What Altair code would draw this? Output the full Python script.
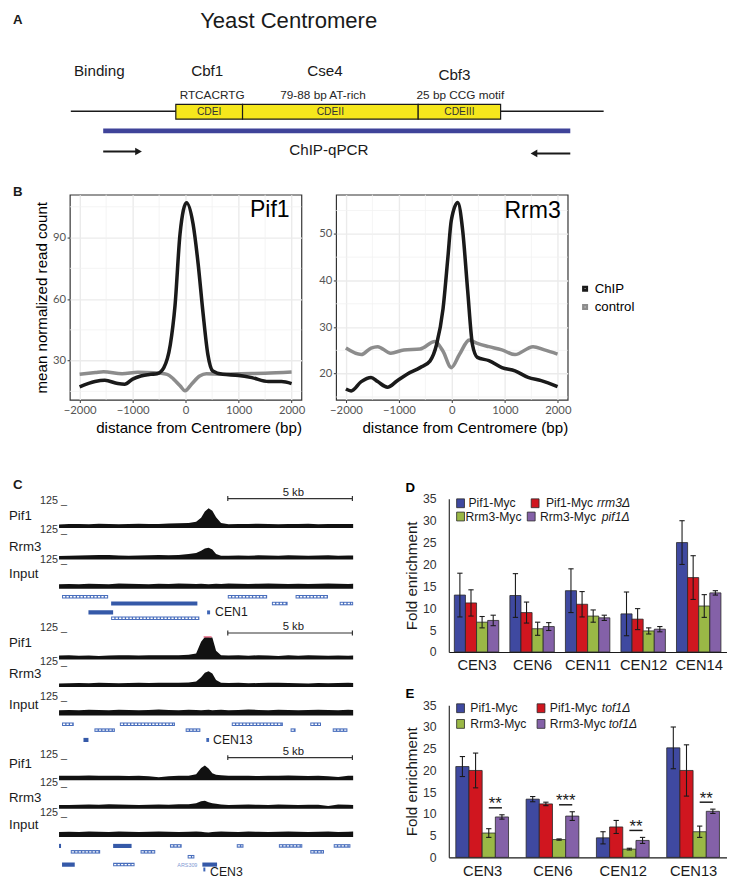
import altair as alt
import pandas as pd

S = 0.984


def s(v):
    return round(v * S, 3)


FONT = "Liberation Sans"
TFONT = "Lato"
INK = "#1a1a1a"

# ======================= DATA =======================
# ---- Panel A (schematic labels)
a_title = "Yeast Centromere"
a_binding = ["Binding", "Cbf1", "Cse4", "Cbf3"]
a_motifs = ["RTCACRTG", "79-88 bp AT-rich", "25 bp CCG motif"]
a_elements = ["CDEI", "CDEII", "CDEIII"]
a_assay = "ChIP-qPCR"

# ---- Panel B (mean normalized read count vs distance, bp)
pif1_chip_x = [-2000, -1710, -1525, -1280, -1150, -1000, -845, -660, -540, -413, -290, -200, -105, 18, 140, 235, 327, 420, 512, 700, 1000, 1250, 1560, 1810, 2000]
pif1_chip_y = [17.2, 19.8, 20.4, 18.8, 18.5, 21.0, 22.5, 23.3, 23.6, 26.5, 37.6, 56.8, 91.9, 107.0, 96.7, 77.5, 53.6, 32.9, 24.9, 23.3, 22.8, 21.7, 19.8, 19.8, 18.8]
pif1_ctrl_x = [-2000, -1700, -1550, -1200, -900, -600, -350, -228, -105, -12, 111, 265, 390, 700, 1000, 1500, 2000]
pif1_ctrl_y = [23.3, 24.2, 24.6, 23.6, 24.3, 24.1, 23.3, 21.0, 17.7, 15.3, 18.5, 22.5, 23.6, 23.3, 23.6, 23.8, 24.4]
rrm3_chip_x = [-2000, -1900, -1710, -1525, -1400, -1216, -1031, -846, -599, -414, -290, -167, -74, -12, 111, 204, 296, 389, 481, 698, 944, 1191, 1438, 1685, 1994]
rrm3_chip_y = [16.7, 16.3, 18.3, 19.2, 18.3, 17.1, 18.5, 19.9, 21.3, 22.7, 26.2, 33.9, 45.1, 52.8, 56.7, 50.7, 38.1, 26.2, 23.5, 22.8, 21.3, 20.6, 19.2, 18.5, 17.2]
rrm3_ctrl_x = [-2000, -1710, -1525, -1401, -1154, -907, -599, -321, -167, -12, 142, 327, 481, 698, 944, 1191, 1531, 1747, 1994]
rrm3_ctrl_y = [25.5, 24.1, 25.5, 25.8, 24.4, 25.1, 25.3, 26.9, 24.8, 21.3, 24.1, 27.2, 26.5, 25.8, 25.1, 24.1, 25.8, 25.1, 24.2]
b_series = ["ChIP", "control"]

# ---- Panel C (browser tracks; position in kb, signal 0-125)
c_pos = [0.0, 0.4, 0.8, 1.2, 1.6, 2.0, 2.4, 2.8, 3.2, 3.6, 4.0, 4.4, 4.8, 5.2, 5.5, 5.7, 5.85, 6.0, 6.15, 6.3, 6.5, 6.8, 7.2, 7.6, 8.0, 8.4, 8.8, 9.2, 9.6, 10.0, 10.4, 10.8, 11.2, 11.6, 11.8]
cen1_pif1 = [18, 20, 21, 19, 22, 21, 19, 21, 22, 20, 21, 23, 24, 26, 32, 52, 84, 100, 88, 55, 26, 19, 21, 20, 22, 21, 19, 21, 20, 22, 19, 21, 20, 21, 21]
cen1_rrm3 = [17, 18, 20, 21, 23, 22, 20, 19, 20, 21, 22, 21, 23, 27, 33, 44, 56, 60, 50, 28, 19, 18, 20, 19, 21, 20, 19, 21, 20, 18, 20, 21, 19, 20, 20]
cen1_input = [24, 25, 24, 26, 25, 24, 27, 26, 25, 24, 26, 25, 27, 26, 25, 26, 25, 24, 25, 26, 25, 27, 26, 25, 26, 27, 26, 25, 26, 25, 26, 27, 26, 25, 26]
cen13_pif1 = [20, 21, 19, 20, 18, 20, 21, 22, 20, 21, 22, 21, 22, 24, 30, 90, 115, 115, 112, 45, 22, 20, 21, 19, 22, 20, 18, 21, 19, 21, 20, 19, 20, 19, 20]
cen13_rrm3 = [18, 19, 20, 19, 21, 20, 19, 20, 21, 20, 22, 21, 22, 23, 28, 50, 72, 80, 68, 35, 22, 20, 21, 19, 20, 21, 22, 20, 19, 18, 20, 19, 20, 21, 20]
cen13_input = [27, 28, 26, 29, 28, 27, 29, 28, 27, 28, 30, 28, 27, 29, 28, 27, 28, 29, 27, 28, 29, 27, 28, 30, 28, 27, 29, 28, 27, 28, 29, 28, 27, 29, 28]
cen3_pif1 = [22, 23, 22, 24, 22, 23, 22, 21, 22, 20, 15, 20, 22, 23, 30, 62, 75, 60, 35, 28, 25, 23, 22, 23, 21, 22, 23, 24, 22, 21, 22, 20, 16, 22, 23]
cen3_rrm3 = [18, 19, 20, 21, 20, 22, 21, 20, 19, 20, 21, 20, 22, 23, 28, 38, 40, 33, 27, 25, 21, 19, 20, 21, 20, 19, 21, 20, 19, 20, 20, 14, 21, 20, 19]
cen3_input = [26, 27, 26, 28, 27, 26, 28, 27, 26, 27, 28, 27, 26, 27, 28, 27, 25, 24, 26, 27, 28, 27, 26, 28, 27, 26, 27, 28, 27, 26, 27, 28, 26, 27, 28]
c_track_names = ["Pif1", "Rrm3", "Input"]
c_cen_names = ["CEN1", "CEN13", "CEN3"]
c_scale_label = "5 kb"
c_track_max = "125"
# gene annotations: group, row, start kb, end kb, kind
gene_group = [0] * 9 + [1] * 10 + [2] * 14
gene_row = ["a", "a", "a", "b", "b", "b", "c", "c", "d",
            "a", "a", "a", "a", "b", "b", "b", "b", "c", "c",
            "a", "a", "a", "a", "a", "a", "b", "b", "b", "c", "d", "d", "d", "e"]
gene_start = [0.12, 6.77, 9.49, 2.09, 8.54, 11.26, 1.18, 5.94, 2.09,
              0.12, 2.44, 6.93, 10.08, 1.42, 5.08, 9.29, 10.98, 0.98, 5.91,
              0.0, 2.17, 4.45, 7.13, 8.82, 11.02, 0.47, 3.27, 10.08, 5.16, 0.12, 2.17, 5.75, 5.79]
gene_end = [1.97, 8.35, 10.79, 5.55, 9.17, 11.8, 2.17, 6.06, 5.63,
            0.59, 4.65, 8.98, 10.51, 2.24, 5.67, 9.49, 11.57, 1.18, 6.02,
            0.08, 2.91, 4.92, 7.4, 9.76, 11.69, 1.65, 3.86, 10.63, 5.43, 0.63, 3.03, 6.34, 5.87]
gene_kind = ["hatch", "hatch", "hatch", "solid", "hatch", "hatch", "solid", "cen", "hatch",
             "hatch", "hatch", "hatch", "hatch", "hatch", "hatch", "hatch", "hatch", "solid", "cen",
             "solid", "solid", "hatch", "hatch", "hatch", "hatch", "hatch", "hatch", "hatch", "hatch", "solid", "hatch", "solid", "cen"]

# ---- Panel D
d_cats = ["CEN3", "CEN6", "CEN11", "CEN12", "CEN14"]
d_series = ["Pif1-Myc", "Pif1-Myc rrm3Δ", "Rrm3-Myc", "Rrm3-Myc pif1Δ"]
d_pif1 = [13.0, 12.9, 14.0, 8.7, 25.0]
d_pif1_err = [5.0, 5.0, 5.0, 5.0, 5.0]
d_pif1_rrm3 = [11.2, 9.0, 10.9, 7.5, 17.0]
d_pif1_rrm3_err = [3.0, 2.4, 2.9, 2.4, 5.0]
d_rrm3 = [6.8, 5.3, 8.2, 4.8, 10.5]
d_rrm3_err = [1.3, 1.5, 1.4, 0.7, 2.6]
d_rrm3_pif1 = [7.2, 5.8, 7.8, 5.2, 13.5]
d_rrm3_pif1_err = [1.2, 0.9, 0.6, 0.6, 0.5]

# ---- Panel E
e_cats = ["CEN3", "CEN6", "CEN12", "CEN13"]
e_series = ["Pif1-Myc", "Pif1-Myc tof1Δ", "Rrm3-Myc", "Rrm3-Myc tof1Δ"]
e_pif1 = [20.9, 13.4, 4.5, 25.2]
e_pif1_err = [2.3, 0.6, 1.4, 4.8]
e_pif1_tof1 = [20.0, 12.3, 7.0, 20.0]
e_pif1_tof1_err = [4.0, 0.4, 1.5, 5.9]
e_rrm3 = [5.6, 4.1, 1.9, 5.9]
e_rrm3_err = [1.0, 0.15, 0.2, 1.3]
e_rrm3_tof1 = [9.3, 9.5, 3.9, 10.6]
e_rrm3_tof1_err = [0.5, 1.0, 0.7, 0.5]
e_sig = ["**", "***", "**", "**"]

BAR_COLORS = ["#3f49a0", "#d0161f", "#9ab846", "#8461a8"]


# ======================= HELPERS =======================
def P(xs, ys, x="x", y="y", x2=None, y2=None):
    e = {"x": alt.X(f"{x}:Q", scale=xs, axis=None), "y": alt.Y(f"{y}:Q", scale=ys, axis=None)}
    if x2:
        e["x2"] = alt.X2(f"{x2}:Q")
    if y2:
        e["y2"] = alt.Y2(f"{y2}:Q")
    return e


def text_layer(df, xs, ys, size, **mk):
    mk.setdefault("font", FONT)
    mk.setdefault("baseline", "middle")
    mk.setdefault("color", INK)
    return alt.Chart(df).mark_text(fontSize=s(size), **mk).encode(text="t:N", **P(xs, ys))


def spacer(w, h):
    return alt.Chart(pd.DataFrame({"a": [0]})).mark_point(opacity=0).encode(
        x=alt.X("a:Q", axis=None), y=alt.Y("a:Q", axis=None)
    ).properties(width=s(w), height=s(h))


# ======================= PANEL A =======================
XA = alt.Scale(domain=[0, 733], nice=False, zero=False)
YA = alt.Scale(domain=[0, 187], reverse=True, nice=False, zero=False)
box_edges = [170, 238, 417, 501]

a_layers = [
    alt.Chart(pd.DataFrame({"x": [63], "x2": [606], "y": [103]})).mark_rule(color=INK, strokeWidth=s(1.7)).encode(**P(XA, YA, x2="x2")),
    alt.Chart(pd.DataFrame({"x": [96], "x2": [572], "y": [123]})).mark_rule(color="#3f4399", strokeWidth=s(5), strokeCap="butt").encode(**P(XA, YA, x2="x2")),
    alt.Chart(pd.DataFrame({"x": box_edges[:-1], "x2": box_edges[1:], "y": [96] * 3, "y2": [111] * 3})).mark_rect(fill="#f5e71c", stroke=INK, strokeWidth=s(1.2)).encode(**P(XA, YA, x2="x2", y2="y2")),
    text_layer(pd.DataFrame({"x": [(a + b) / 2 for a, b in zip(box_edges[:-1], box_edges[1:])], "y": [103.5] * 3, "t": a_elements}), XA, YA, 10.5, color="#333333"),
    text_layer(pd.DataFrame({"x": [92, 202, 322, 454], "y": [62, 62, 62, 66], "t": a_binding}), XA, YA, 15.5),
    text_layer(pd.DataFrame({"x": [207, 320, 460], "y": [86] * 3, "t": a_motifs}), XA, YA, 12, color="#262626"),
    text_layer(pd.DataFrame({"x": [285], "y": [11], "t": [a_title]}), XA, YA, 22.5),
    text_layer(pd.DataFrame({"x": [326], "y": [142], "t": [a_assay]}), XA, YA, 15.5),
    text_layer(pd.DataFrame({"x": [4, 4], "y": [10, 185], "t": ["A", "B"]}), XA, YA, 13.5, align="left", fontWeight="bold"),
    alt.Chart(pd.DataFrame({"x": [96, 537], "x2": [130, 572], "y": [144, 146]})).mark_rule(color=INK, strokeWidth=s(2)).encode(**P(XA, YA, x2="x2")),
    alt.Chart(pd.DataFrame({"x": [132], "y": [144]})).mark_point(shape="triangle-right", filled=True, color=INK, opacity=1, size=60).encode(**P(XA, YA)),
    alt.Chart(pd.DataFrame({"x": [535], "y": [146]})).mark_point(shape="triangle-left", filled=True, color=INK, opacity=1, size=60).encode(**P(XA, YA)),
]
chartA = alt.layer(*a_layers).properties(width=s(733), height=s(187))

# ======================= PANEL B =======================
B_XMAJ = [-2000, -1000, 0, 1000, 2000]
B_XMIN = [-1500, -500, 500, 1500]


def b_panel(chip_x, chip_y, ctrl_x, ctrl_y, ydom, ymaj, ymin, name, name_xy, ytitle, show_legend):
    xs = alt.Scale(domain=[-2185, 2185], nice=False, zero=False)
    ys = alt.Scale(domain=ydom, nice=False, zero=False)
    common = dict(grid=True, gridColor="#ebebeb", gridWidth=s(1.4), domain=False, tickColor="#333333",
                  tickSize=s(2.8), tickWidth=s(1), labelFont=TFONT, labelFontSize=s(11.5), labelColor="#555555",
                  titleFont=FONT, titleFontWeight="normal", titleColor="#000000", format="d")
    xaxis = alt.Axis(values=B_XMAJ, title="distance from Centromere (bp)", labelPadding=s(2),
                     titleFontSize=s(15.4), titlePadding=s(5), titleAnchor="end", **common)
    yaxis = alt.Axis(values=ymaj, title=ytitle, labelPadding=s(1.5), titleFontSize=s(15.4),
                     titlePadding=s(3), **common)
    cscale = alt.Scale(domain=b_series, range=["#1a1a1a", "#8c8c8c"])
    if show_legend:
        leg = alt.Legend(orient="none", legendX=s(247), legendY=s(89), title=None, symbolType="square",
                         symbolSize=12, symbolStrokeWidth=s(2.6), labelFont=FONT, labelFontSize=s(13.5),
                         labelColor="#000000", rowPadding=s(3.5), labelOffset=s(3), padding=0)
    else:
        leg = None
    minor_x = alt.Chart(pd.DataFrame({"g": B_XMIN})).mark_rule(color="#f1f1f1", strokeWidth=s(0.8)).encode(
        x=alt.X("g:Q", scale=xs, axis=xaxis))
    minor_y = alt.Chart(pd.DataFrame({"g": ymin})).mark_rule(color="#f1f1f1", strokeWidth=s(0.8)).encode(
        y=alt.Y("g:Q", scale=ys, axis=yaxis))
    ctrl = pd.DataFrame({"d": ctrl_x, "v": ctrl_y, "series": b_series[1]})
    chip = pd.DataFrame({"d": chip_x, "v": chip_y, "series": b_series[0]})

    def line(df):
        return alt.Chart(df).mark_line(strokeWidth=s(3.6), interpolate="monotone").encode(
            x=alt.X("d:Q", scale=xs, axis=xaxis), y=alt.Y("v:Q", scale=ys, axis=yaxis),
            color=alt.Color("series:N", scale=cscale, legend=leg))

    lab = alt.Chart(pd.DataFrame({"x": [name_xy[0]], "y": [name_xy[1]], "t": [name]})).mark_text(
        font=FONT, fontSize=s(23.5), align="right", baseline="middle", color="#000000").encode(
        x=alt.X("x:Q", scale=xs, axis=xaxis), y=alt.Y("y:Q", scale=ys, axis=yaxis), text="t:N")
    return alt.layer(minor_x, minor_y, line(ctrl), line(chip), lab).properties(
        width=s(236), height=s(209), view=alt.ViewBackground(stroke="#333333", strokeWidth=s(1.2)))


B1 = b_panel(pif1_chip_x, pif1_chip_y, pif1_ctrl_x, pif1_ctrl_y, [10.9, 110.9], [30, 60, 90], [15, 45, 75, 105],
             "Pif1", (1963, 103.2), "mean normalized read count", False)
B2 = b_panel(rrm3_chip_x, rrm3_chip_y, rrm3_ctrl_x, rrm3_ctrl_y, [14.4, 58.4], [20, 30, 40, 50], [15, 25, 35, 45, 55],
             "Rrm3", (2055, 55.0), "", True)

# ======================= PANEL C =======================
C_KB = 25.4
XC = alt.Scale(domain=[-51 / C_KB, 301 / C_KB], nice=False, zero=False)
YC = alt.Scale(domain=[478, 882], reverse=True, nice=False, zero=False)
C_LEFT = -51 / C_KB

# layout of each track: (values, baseline y, name label y, "125" label y)
track_layout = [
    (cen1_pif1, 526, 514, 498), (cen1_rrm3, 558, 545, 528), (cen1_input, 588, 573, 559),
    (cen13_pif1, 660, 643, 628), (cen13_rrm3, 688, 675, 663), (cen13_input, 717, 706, 698),
    (cen3_pif1, 783, 767, 757), (cen3_rrm3, 812, 801, 786), (cen3_input, 841, 829, 816),
]
PX_PER_UNIT = 25 / 125
rows = []
for k, (vals, base, _, _) in enumerate(track_layout):
    for kb, v in zip(c_pos, vals):
        rows.append({"trk": k, "x": kb, "y": base - v * PX_PER_UNIT, "y2": base})
df_tr = pd.DataFrame(rows)

group_rows = [
    {"a": 596, "b": 603, "c": 612, "d": 618},
    {"a": 726, "b": 732, "c": 742},
    {"a": 850, "b": 856, "c": 861, "d": 869, "e": 874},
]
kind_h = {"solid": 4.2, "hatch": 3.6, "cen": 4.0}
g_rows = []
for g, r, a, b, kd in zip(gene_group, gene_row, gene_start, gene_end, gene_kind):
    yc = group_rows[g][r]
    g_rows.append({"x": a, "x2": b, "y": yc - kind_h[kd] / 2, "y2": yc + kind_h[kd] / 2, "yc": yc, "kind": kd,
                   "hx": a + 0.04, "hx2": b - 0.04})
df_g = pd.DataFrame(g_rows)

scale_y = [496, 633, 760]
c_layers = [
    alt.Chart(df_tr).mark_area(color="#111111", interpolate="linear").encode(detail="trk:N", **P(XC, YC, x2=None, y2="y2")),
    alt.Chart(df_g).mark_rect().encode(
        fill=alt.Fill("kind:N", scale=alt.Scale(domain=["solid", "hatch", "cen"], range=["#3559a8", "#4a6fbd", "#3f66b6"]), legend=None),
        **P(XC, YC, x2="x2", y2="y2")),
    alt.Chart(df_g[df_g.kind == "hatch"]).mark_rule(color="white", strokeWidth=s(1.4), strokeDash=[2.2, 1.3]).encode(
        **P(XC, YC, x="hx", y="yc", x2="hx2")),
    alt.Chart(pd.DataFrame({"x": [5.8], "x2": [6.12], "y": [660 - 115 * PX_PER_UNIT]})).mark_rule(color="#e8708a", strokeWidth=s(1.5)).encode(**P(XC, YC, x2="x2")),
    alt.Chart(pd.DataFrame({"x": [6.77] * 3, "x2": [11.77] * 3, "y": scale_y})).mark_rule(color="#333333", strokeWidth=s(1.2)).encode(**P(XC, YC, x2="x2")),
    alt.Chart(pd.DataFrame({"x": [6.77, 11.77] * 3, "y": [v - 2.5 for v in scale_y for _ in (0, 1)], "y2": [v + 2.5 for v in scale_y for _ in (0, 1)]})).mark_rule(color="#333333", strokeWidth=s(1.2)).encode(**P(XC, YC, y2="y2")),
    text_layer(pd.DataFrame({"x": [9.4] * 3, "y": [v - 6 for v in scale_y], "t": [c_scale_label] * 3}), XC, YC, 11.5),
    text_layer(pd.DataFrame({"x": [C_LEFT] * 9, "y": [t[2] for t in track_layout], "t": c_track_names * 3}), XC, YC, 13.5, align="left"),
    text_layer(pd.DataFrame({"x": [(59 - 51) / C_KB] * 9, "y": [t[3] for t in track_layout], "t": [c_track_max + " _"] * 9}), XC, YC, 11, align="right", color="#333333"),
    text_layer(pd.DataFrame({"x": [6.26, 6.18, 6.06], "y": [612, 742, 877], "t": c_cen_names}), XC, YC, 12.5, align="left"),
    text_layer(pd.DataFrame({"x": [5.55], "y": [869], "t": ["ARS309"]}), XC, YC, 5.5, align="right", color="#7f9ad4"),
    text_layer(pd.DataFrame({"x": [C_LEFT + 0.16], "y": [482], "t": ["C"]}), XC, YC, 13.5, align="left", fontWeight="bold"),
]
chartC = alt.layer(*c_layers).properties(width=s(352), height=s(404))


# ======================= PANELS D / E =======================
def bar_panel(cats, series, vals, errs, bw, dom_max, top_ref, bot_ref, letter, leg, sig=None):
    ppu_x = 283 / dom_max
    ppu_y = (bot_ref - top_ref) / 35
    cap = 2.7 / ppu_x
    rows = []
    for j, (name, v, e) in enumerate(zip(series, vals, errs)):
        for i, c in enumerate(cats):
            x0 = i + 0.1 + j * bw
            rows.append({"series": name, "x0": x0, "x1": x0 + bw, "xc": x0 + bw / 2, "v": v[i],
                         "lo": v[i] - e[i], "hi": v[i] + e[i], "zero": 0,
                         "c0": x0 + bw / 2 - cap, "c1": x0 + bw / 2 + cap})
    df = pd.DataFrame(rows)
    xs = alt.Scale(domain=[0, dom_max], nice=False, zero=False)
    ys = alt.Scale(domain=[0, 35], nice=False, zero=False)
    centers = [i + 0.1 + 2 * bw for i in range(len(cats))]
    label_expr = "[" + ",".join(f"'{c}'" for c in cats) + "][floor(datum.value)]"
    xaxis = alt.Axis(values=centers, labelExpr=label_expr, title="", grid=False, domainColor=INK,
                     domainWidth=s(1.1), ticks=False, labelFont=FONT, labelFontSize=s(15), labelColor=INK,
                     labelPadding=s(6))
    yaxis = alt.Axis(values=list(range(0, 36, 5)), title="Fold enrichment", grid=False, domainColor=INK,
                     domainWidth=s(1.1), ticks=False, labelFont=FONT, labelFontSize=s(12.5), labelColor="#333333",
                     labelPadding=s(13), titleFont=FONT, titleFontSize=s(15.5), titleFontWeight="normal",
                     titleColor=INK, titlePadding=s(3))

    def enc(x="xc", y="v", x2=None, y2=None):
        e = {"x": alt.X(f"{x}:Q", scale=xs, axis=xaxis), "y": alt.Y(f"{y}:Q", scale=ys, axis=yaxis)}
        if x2:
            e["x2"] = alt.X2(f"{x2}:Q")
        if y2:
            e["y2"] = alt.Y2(f"{y2}:Q")
        return e

    fill = alt.Fill("series:N", scale=alt.Scale(domain=series, range=BAR_COLORS), legend=None)
    layers = [
        alt.Chart(df).mark_rect(stroke="#262626", strokeWidth=s(0.8)).encode(fill=fill, **enc("x0", "v", "x1", "zero")),
        alt.Chart(df).mark_rule(color=INK, strokeWidth=s(1.1)).encode(**enc("xc", "lo", None, "hi")),
        alt.Chart(df).mark_rule(color=INK, strokeWidth=s(1.1)).encode(**enc("c0", "hi", "c1")),
        alt.Chart(df).mark_rule(color=INK, strokeWidth=s(1.1)).encode(**enc("c0", "lo", "c1")),
    ]

    def ux(px):
        return (px - 447) / ppu_x

    def uy(py):
        return (bot_ref - py) / ppu_y

    lg = []
    for (sx, sy, tx, ix), name in zip(leg, series):
        main, _, ital = name.partition(" ")
        lg.append({"x0": ux(sx), "x1": ux(sx + 8), "y0": uy(sy - 4.5), "y1": uy(sy + 4.5), "tx": ux(tx), "ty": uy(sy),
                   "main": main, "ital": ital, "ix": ux(ix if ix is not None else tx), "series": name})
    dl = pd.DataFrame(lg)
    layers += [
        alt.Chart(dl).mark_rect(stroke="#262626", strokeWidth=s(0.8)).encode(fill=fill, **enc("x0", "y0", "x1", "y1")),
        alt.Chart(dl).mark_text(font=FONT, fontSize=s(12.4), align="left", baseline="middle", color=INK).encode(
            text="main:N", **enc("tx", "ty")),
        alt.Chart(dl[dl.ital != ""]).mark_text(font=FONT, fontSize=s(12.4), fontStyle="italic", align="left",
                                                baseline="middle", color=INK).encode(text="ital:N", **enc("ix", "ty")),
    ]
    if sig is not None:
        srows = []
        for i, st in enumerate(sig):
            top = max(vals[2][i] + errs[2][i], vals[3][i] + errs[3][i]) + 1.6
            a = i + 0.1 + 2.5 * bw
            b = i + 0.1 + 3.5 * bw
            srows.append({"a": a, "b": b, "m": (a + b) / 2, "y": top, "t": st})
        ds = pd.DataFrame(srows)
        layers += [
            alt.Chart(ds).mark_rule(color=INK, strokeWidth=s(1.5)).encode(**enc("a", "y", "b")),
            alt.Chart(ds).mark_text(font=FONT, fontSize=s(17), align="center", baseline="alphabetic", dy=s(1.5),
                                    color=INK).encode(text="t:N", **enc("m", "y")),
        ]
    lt = alt.Chart(pd.DataFrame({"x": [ux(403)], "y": [uy(top_ref - 11)], "t": [letter]})).mark_text(
        font=FONT, fontSize=s(13.5), fontWeight="bold", align="left", baseline="middle", color="#000000").encode(
        text="t:N", **enc("x", "y"))
    layers.append(lt)
    return alt.layer(*layers).properties(width=s(283), height=s(bot_ref - top_ref))


chartD = bar_panel(d_cats, d_series,
                   [d_pif1, d_pif1_rrm3, d_rrm3, d_rrm3_pif1],
                   [d_pif1_err, d_pif1_rrm3_err, d_rrm3_err, d_rrm3_pif1_err],
                   0.2, 5.0, 496, 652, "D",
                   [(455, 500.5, 467, None), (531, 500.5, 546, 598), (455, 514, 464, None), (527, 514, 540, 603)])
chartE = bar_panel(e_cats, e_series,
                   [e_pif1, e_pif1_tof1, e_rrm3, e_rrm3_tof1],
                   [e_pif1_err, e_pif1_tof1_err, e_rrm3_err, e_rrm3_tof1_err],
                   0.1875, 3.95, 705, 860, "E",
                   [(455, 708, 469, None), (537, 708, 550, 603), (455, 724, 469, None), (537, 724, 550, 610)],
                   sig=e_sig)

# ======================= LAYOUT =======================
# (with flush bounds a nested concat contributes no height, so the following spacer carries row B's height)
IND = dict(color="independent", fill="independent")
rowB = alt.hconcat(spacer(61, 209), B1, spacer(34, 209), B2, spacing=0, bounds="flush").resolve_scale(**IND)
right_col = alt.vconcat(spacer(283, 18), chartD, spacer(283, 53), chartE, spacing=0, bounds="flush").resolve_scale(**IND)
rowC = alt.hconcat(chartC, spacer(95, 404), right_col, spacing=0, bounds="flush").resolve_scale(**IND)
chart = alt.vconcat(chartA, rowB, spacer(10, 209 + 82), rowC, spacing=0, bounds="flush").resolve_scale(**IND).properties(
    padding=0, background="white"
).configure(font=FONT).configure_view(stroke="transparent")

chart.save("out.html", embed_options={"renderer": "svg", "actions": False})
